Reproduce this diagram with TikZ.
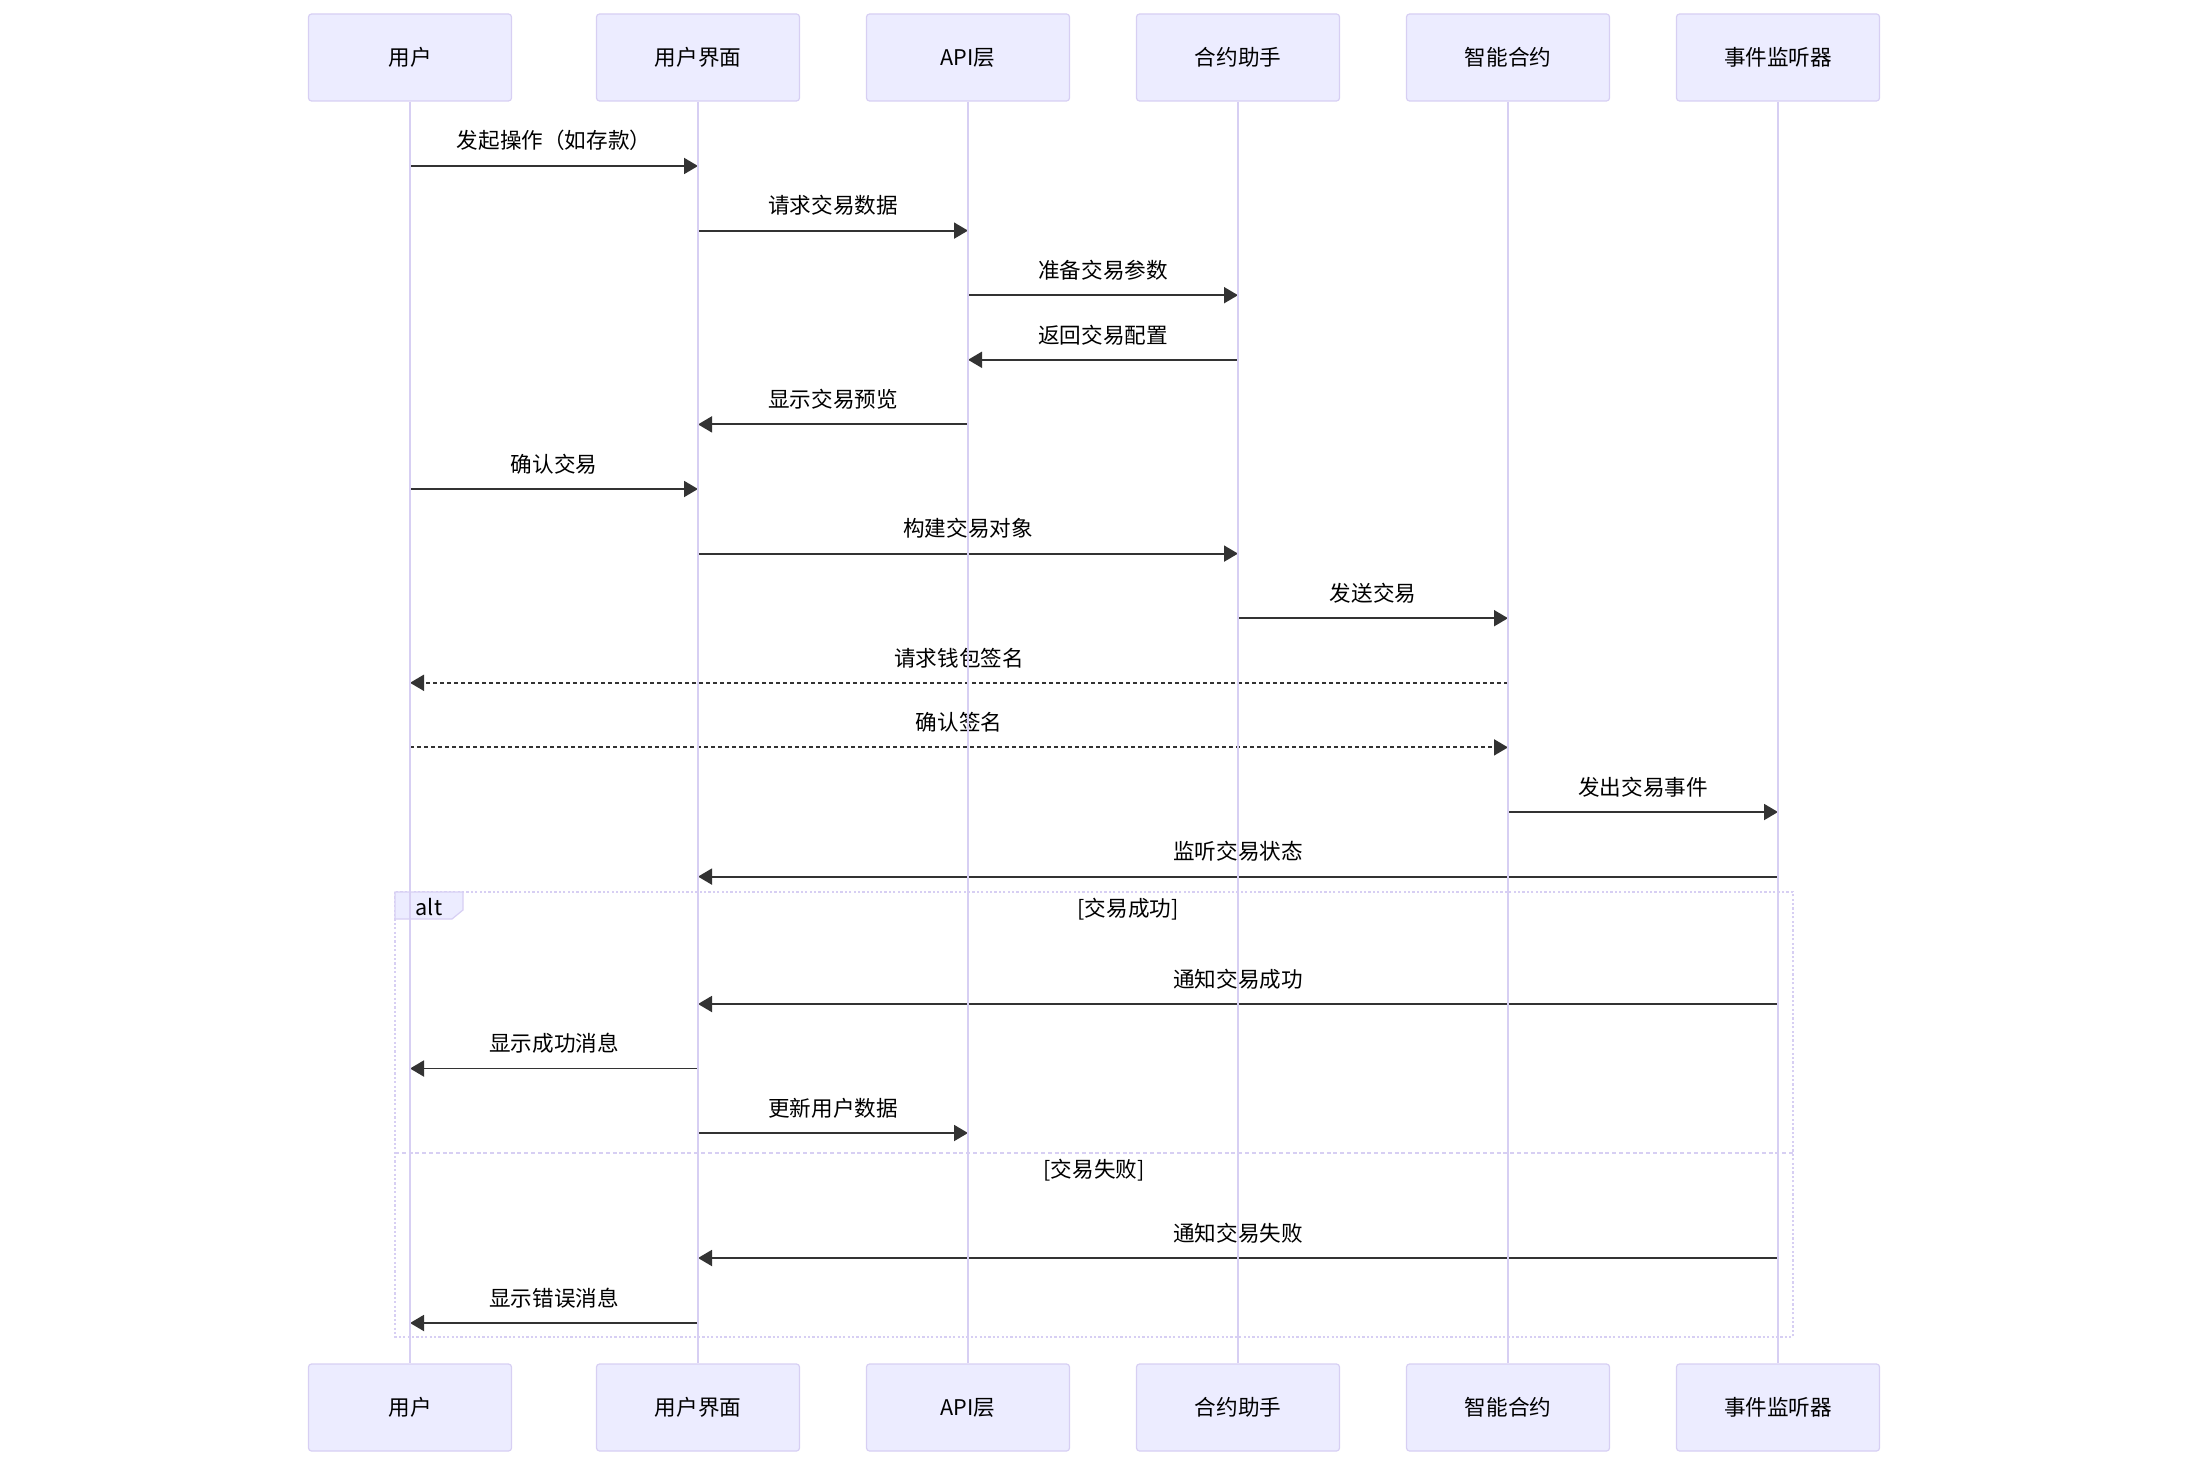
\documentclass[tikz,border=0pt]{standalone}
\usepackage{fontspec}
\newfontfamily\cjk{Noto Sans CJK SC}
\usepackage{tikz}
\usetikzlibrary{arrows.meta}

\definecolor{actorfill}{HTML}{ECECFF}
\definecolor{actorline}{HTML}{D7CFF3}
\definecolor{msgline}{HTML}{333333}

\begin{document}
\begin{tikzpicture}[x=0.5pt, y=-0.5pt,
    every node/.style={font=\cjk\fontsize{10.8}{13}\selectfont, text=black},
    actor/.style={draw=actorline, fill=actorfill, line width=0.6pt, rounded corners=1.5pt,
        minimum width=101.5pt, minimum height=43.5pt, inner sep=0pt},
    lifeline/.style={draw=actorline, line width=1pt},
    msg/.style={draw=msgline, line width=0.95pt, -{Triangle[length=7pt, width=8pt]}},
    reply/.style={msg, dash pattern=on 2pt off 1.5pt},
    txt/.style={above=6pt, inner sep=1pt},
    frame/.style={draw=actorline, line width=1.2pt, dash pattern=on 1.1pt off 1.1pt},
    ]
    \useasboundingbox (0,0) rectangle (2188,1466);
    % actors on top
    \node[actor](user) at (410,57.5) {用户};
    \node[actor](ui) at (698,57.5) {用户界面};
    \node[actor](api) at (968,57.5) {API层};
    \node[actor](helper) at (1238,57.5) {合约助手};
    \node[actor](contract) at (1508,57.5) {智能合约};
    \node[actor](listener) at (1778,57.5) {事件监听器};
    % actors at the bottom
    \node[actor](userB) at (410,1407.5) {用户};
    \node[actor](uiB) at (698,1407.5) {用户界面};
    \node[actor](apiB) at (968,1407.5) {API层};
    \node[actor](helperB) at (1238,1407.5) {合约助手};
    \node[actor](contractB) at (1508,1407.5) {智能合约};
    \node[actor](listenerB) at (1778,1407.5) {事件监听器};
    % rows
    \coordinate (r1) at (0,166);
    \coordinate (r2) at (0,230.6);
    \coordinate (r3) at (0,295.2);
    \coordinate (r4) at (0,359.8);
    \coordinate (r5) at (0,424.4);
    \coordinate (r6) at (0,489);
    \coordinate (r7) at (0,553.6);
    \coordinate (r8) at (0,618.2);
    \coordinate (r9) at (0,682.8);
    \coordinate (r10) at (0,747.4);
    \coordinate (r11) at (0,812);
    \coordinate (r12) at (0,876.6);
    \coordinate (r13) at (0,1004);
    \coordinate (r14) at (0,1068.5);
    \coordinate (r15) at (0,1133);
    \coordinate (r16) at (0,1258);
    \coordinate (r17) at (0,1323);
    % alt frame
    \coordinate (altNW) at (395,892);
    \coordinate (altSE) at (1793,1337);
    \coordinate (altSep) at (0,1153);
    \draw[frame] (altNW) rectangle (altSE);
    \draw[frame, line width=1pt, dash pattern=on 2pt off 1.4pt] (altNW |- altSep) -- (altSE |- altSep);
    \draw[draw=actorline, fill=actorfill, line width=0.6pt]
        (altNW) -- ++(68,0) -- ++(0,18) -- ++(-11,9) -- ++(-57,0) -- cycle;
    \node(alt) at (429,907) {alt};
    \node(ok) at (1128,909) {[交易成功]};
    \node(fail) at (1094,1170) {[交易失败]};
    % messages
    \path
        (user |- r1) edge [msg] node[txt] {发起操作（如存款）} (ui |- r1)
        (ui |- r2) edge [msg] node[txt] {请求交易数据} (api |- r2)
        (api |- r3) edge [msg] node[txt] {准备交易参数} (helper |- r3)
        (helper |- r4) edge [msg] node[txt] {返回交易配置} (api |- r4)
        (api |- r5) edge [msg] node[txt] {显示交易预览} (ui |- r5)
        (user |- r6) edge [msg] node[txt] {确认交易} (ui |- r6)
        (ui |- r7) edge [msg] node[txt] {构建交易对象} (helper |- r7)
        (helper |- r8) edge [msg] node[txt] {发送交易} (contract |- r8)
        (contract |- r9) edge [reply] node[txt] {请求钱包签名} (user |- r9)
        (user |- r10) edge [reply] node[txt] {确认签名} (contract |- r10)
        (contract |- r11) edge [msg] node[txt] {发出交易事件} (listener |- r11)
        (listener |- r12) edge [msg] node[txt] {监听交易状态} (ui |- r12)
        (listener |- r13) edge [msg] node[txt] {通知交易成功} (ui |- r13)
        (ui |- r14) edge [msg] node[txt] {显示成功消息} (user |- r14)
        (ui |- r15) edge [msg] node[txt] {更新用户数据} (api |- r15)
        (listener |- r16) edge [msg] node[txt] {通知交易失败} (ui |- r16)
        (ui |- r17) edge [msg] node[txt] {显示错误消息} (user |- r17)
        ;
    % lifelines
    \draw[lifeline] (user) -- (userB);
    \draw[lifeline] (ui) -- (uiB);
    \draw[lifeline] (api) -- (apiB);
    \draw[lifeline] (helper) -- (helperB);
    \draw[lifeline] (contract) -- (contractB);
    \draw[lifeline] (listener) -- (listenerB);
\end{tikzpicture}
\end{document}
